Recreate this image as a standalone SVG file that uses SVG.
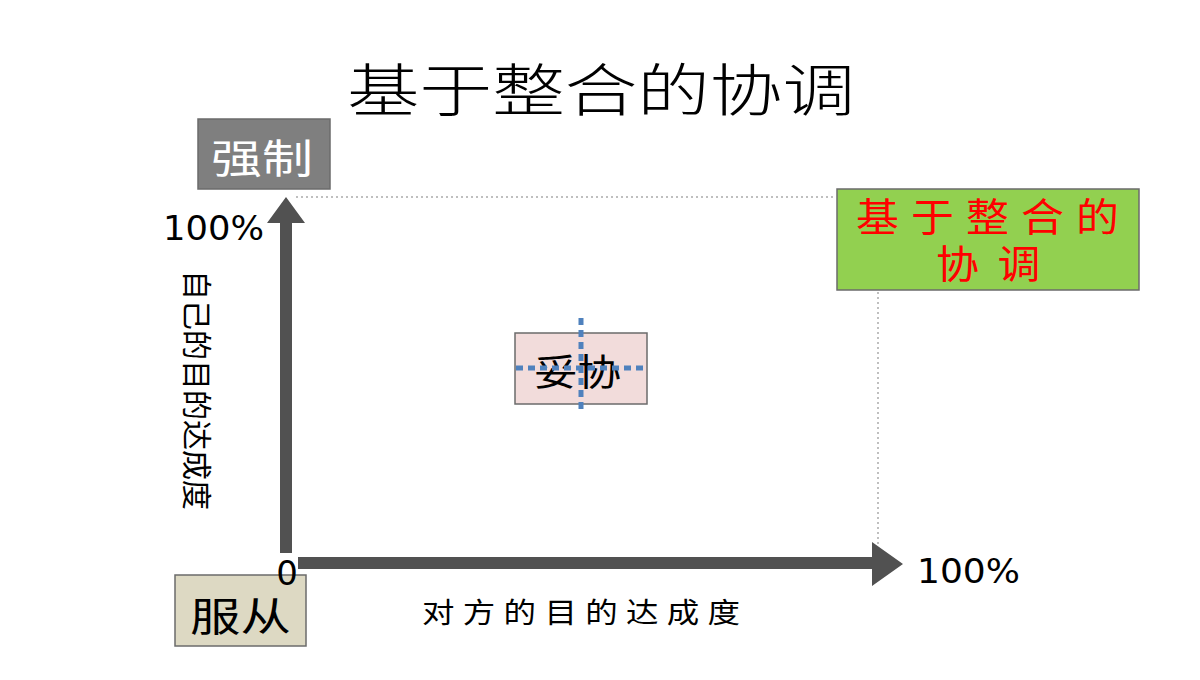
<svg xmlns="http://www.w3.org/2000/svg" width="1200" height="680" viewBox="0 0 1200 680">
<style>
text{font-family:"Noto Sans CJK SC","Liberation Sans",sans-serif}
.lbl{font-family:"DejaVu Sans","Liberation Sans",sans-serif;font-size:34px;fill:#000}
.box{stroke:#6b6b6b;stroke-width:1.5}
.guide{stroke:#bfbfbf;stroke-width:2;stroke-dasharray:2,3;fill:none}
.blue{stroke:#4f81bd;stroke-width:5;stroke-dasharray:7,5;fill:none}
.axis{fill:#515151}
</style>
<rect width="1200" height="680" fill="#fff"/>
<text x="347" y="111" font-size="57" font-weight="300" fill="#000" textLength="508" lengthAdjust="spacingAndGlyphs">基于整合的协调</text>
<g id="connectors">
<line class="guide" x1="296" y1="197" x2="836" y2="197"/>
<line class="guide" x1="878" y1="292" x2="878" y2="548"/>
<polygon class="axis" points="280,553 280,223 267,223 286,197 305,223 292,223 292,553"/>
<polygon class="axis" points="298,557 872,557 872,542 903,564 872,586 872,569 298,569"/>
</g>
<g id="node-qiangzhi">
<rect class="box" x="198" y="119" width="132" height="70" fill="#7f7f7f"/>
<text x="211" y="173" font-size="40" fill="#fff" textLength="102" lengthAdjust="spacingAndGlyphs">强制</text>
</g>
<g id="node-integrate">
<rect class="box" x="837" y="189" width="302" height="101" fill="#92d050"/>
<text transform="translate(856,231) scale(1.1,1)" font-size="39" fill="#ff0000" textLength="239" lengthAdjust="spacing">基于整合的</text>
<text transform="translate(936,278) scale(1.1,1)" font-size="39" fill="#ff0000" textLength="95" lengthAdjust="spacing">协调</text>
</g>
<g id="node-tuoxie">
<rect class="box" x="515" y="333" width="132" height="71" fill="#f2dcdb"/>
<text x="534" y="386" font-size="37" fill="#000" textLength="87" lengthAdjust="spacingAndGlyphs">妥协</text>
<line class="blue" x1="516" y1="368" x2="646" y2="368"/>
<line class="blue" x1="581" y1="318" x2="581" y2="411"/>
</g>
<g id="node-fucong">
<rect class="box" x="175" y="575" width="131" height="71" fill="#ddd9c3"/>
<text x="190" y="631" font-size="40" fill="#000" textLength="101" lengthAdjust="spacingAndGlyphs">服从</text>
</g>
<text class="lbl" x="163" y="240" textLength="101" lengthAdjust="spacingAndGlyphs">100%</text>
<text class="lbl" x="917" y="583" textLength="103" lengthAdjust="spacingAndGlyphs">100%</text>
<text class="lbl" x="287" y="585" text-anchor="middle" font-family="Liberation Sans" font-size="36">0</text>
<text x="0" y="0" font-size="30" text-anchor="middle" fill="#000" transform="translate(186,390) rotate(90)">自己的目的达成度</text>
<text transform="translate(422,623) scale(1.12,1)" font-size="29" fill="#000" textLength="284" lengthAdjust="spacing">对方的目的达成度</text>
</svg>
